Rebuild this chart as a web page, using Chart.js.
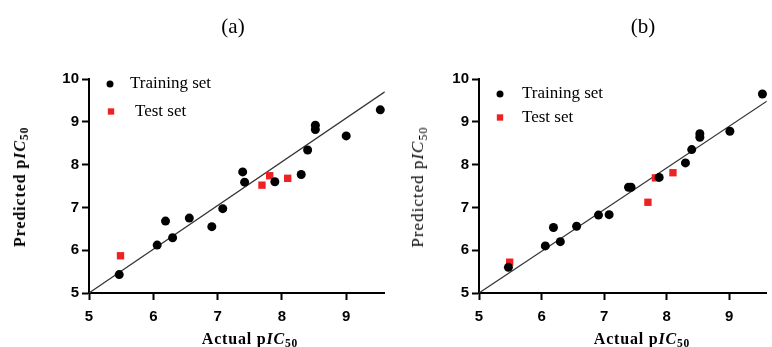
<!DOCTYPE html>
<html>
<head>
<meta charset="utf-8">
<script src="https://cdn.jsdelivr.net/npm/chart.js@4.4.0/dist/chart.umd.min.js"></script>
<style>
  body { margin: 0; background: #fff; width: 772px; height: 347px; overflow: hidden; position: relative; font-family: "Liberation Serif", serif; color: #000; }
  canvas { position: absolute; top: 0; }
  .panel { position: absolute; top: 14px; font-size: 21px; transform: translateX(-50%); }
  .xtitle { position: absolute; top: 330px; font-size: 16px; font-weight: bold; letter-spacing: 0.8px; white-space: nowrap; transform: translateX(-50%); }
  .ytitle { position: absolute; font-size: 16px; font-weight: bold; letter-spacing: 0.9px; white-space: nowrap; transform: translate(-50%, -50%) rotate(-90deg); }
  .ytitle.thin { font-weight: normal; font-size: 17px; letter-spacing: 1px; }
  sub { font-size: 0.72em; vertical-align: baseline; position: relative; top: 0.3em; line-height: 0; }
</style>
</head>
<body>
<canvas id="chartA" width="390" height="347" style="left:0"></canvas>
<canvas id="chartB" width="382" height="347" style="left:390px"></canvas>

<div class="panel" style="left:233px">(a)</div>
<div class="panel" style="left:643px">(b)</div>
<div class="ytitle" style="left:20px; top:187px">Predicted p<i>IC</i><sub>50</sub></div>
<div class="ytitle thin" style="left:418px; top:187px">Predicted p<i>IC</i><sub>50</sub></div>
<div class="xtitle" style="left:250px">Actual p<i>IC</i><sub>50</sub></div>
<div class="xtitle" style="left:642px">Actual p<i>IC</i><sub>50</sub></div>

<script>
// tick labels
const xTicks = [5, 6, 7, 8, 9];
const yTicks = [5, 6, 7, 8, 9, 10];
const legendLabels = ['Training set', 'Test set'];

// panel (a)
const trainActualA = [5.47, 6.06, 6.19, 6.30, 6.56, 6.91, 7.08, 7.39, 7.42, 7.89, 8.30, 8.40, 8.52, 8.52, 9.00, 9.53];
const trainPredA   = [5.43, 6.12, 6.68, 6.29, 6.75, 6.55, 6.97, 7.83, 7.59, 7.60, 7.77, 8.34, 8.92, 8.82, 8.67, 9.28];
const testActualA  = [5.49, 7.69, 7.81, 8.09];
const testPredA    = [5.87, 7.52, 7.74, 7.68];
const fitXA = [5, 9.6];
const fitYA = [5, 9.7];

// panel (b)
const trainActualB = [5.47, 6.06, 6.19, 6.30, 6.56, 6.91, 7.08, 7.39, 7.43, 7.88, 8.30, 8.40, 8.53, 8.53, 9.01, 9.53];
const trainPredB   = [5.60, 6.10, 6.53, 6.20, 6.56, 6.82, 6.83, 7.47, 7.47, 7.70, 8.04, 8.35, 8.72, 8.64, 8.78, 9.65];
const testActualB  = [5.49, 7.70, 7.82, 8.10];
const testPredB    = [5.72, 7.12, 7.69, 7.81];
const fitXB = [5, 9.6];
const fitYB = [5, 9.48];

const toPoints = (xs, ys) => xs.map((x, i) => ({ x: x, y: ys[i] }));

// legend drawn inside the plot area
const innerLegend = {
  id: 'innerLegend',
  afterDatasetsDraw(chart, args, opts) {
    const ctx = chart.ctx;
    ctx.save();
    ctx.font = '17px "Liberation Serif"';
    ctx.textBaseline = 'middle';
    opts.items.forEach((it, i) => {
      const ds = chart.data.datasets[i];
      ctx.fillStyle = ds.backgroundColor;
      Chart.helpers.drawPoint(ctx, { pointStyle: ds.pointStyle, radius: it.r, borderWidth: 0, rotation: 0 }, it.mx, it.my);
      ctx.fillStyle = '#000';
      ctx.fillText(legendLabels[i], it.tx, it.my);
    });
    ctx.restore();
  }
};

function axis(min, max, ticks, fit) {
  return {
    type: 'linear',
    min: min,
    max: max,
    afterBuildTicks: s => { s.ticks = ticks.map(v => ({ value: v })); },
    afterFit: fit,
    ticks: {
      color: '#000',
      padding: 3,
      font: { family: 'Liberation Sans', weight: 'bold', size: 15 }
    },
    grid: { drawOnChartArea: false, tickLength: 7, tickWidth: 2, tickColor: '#000' },
    border: { color: '#000', width: 2 }
  };
}

function makeChart(id, trainX, trainY, testX, testY, fitX, fitY, rightPad, legendItems) {
  const xAxis = axis(5, 9.6, xTicks, s => { s.height = 54; });
  xAxis.ticks.padding = 8;
  return new Chart(document.getElementById(id), {
    type: 'scatter',
    data: {
      datasets: [{
        label: legendLabels[0],
        data: toPoints(trainX, trainY),
        pointStyle: 'circle',
        pointRadius: 4.5,
        backgroundColor: '#000',
        borderWidth: 0,
        clip: false
      }, {
        label: legendLabels[1],
        data: toPoints(testX, testY),
        pointStyle: 'rect',
        pointRadius: 5.2,
        backgroundColor: '#ee2222',
        borderWidth: 0,
        clip: false
      }, {
        label: 'fit',
        data: toPoints(fitX, fitY),
        showLine: true,
        pointRadius: 0,
        borderColor: '#333',
        borderWidth: 1.2
      }]
    },
    options: {
      responsive: false,
      animation: false,
      layout: { padding: { top: 79, right: rightPad, left: 0, bottom: 0 } },
      plugins: {
        legend: { display: false },
        tooltip: { enabled: false },
        innerLegend: { items: legendItems }
      },
      scales: {
        x: xAxis,
        y: axis(5, 10, yTicks, s => { s.width = 89; })
      }
    },
    plugins: [innerLegend]
  });
}

makeChart('chartA', trainActualA, trainPredA, testActualA, testPredA, fitXA, fitYA, 5, [
  { mx: 110, my: 84, r: 3.5, tx: 130 },
  { mx: 111, my: 111.5, r: 4.5, tx: 135 }
]);
makeChart('chartB', trainActualB, trainPredB, testActualB, testPredB, fitXB, fitYB, 0, [
  { mx: 110, my: 94, r: 3.5, tx: 132 },
  { mx: 110, my: 117.5, r: 4.5, tx: 132 }
]);
</script>
</body>
</html>
